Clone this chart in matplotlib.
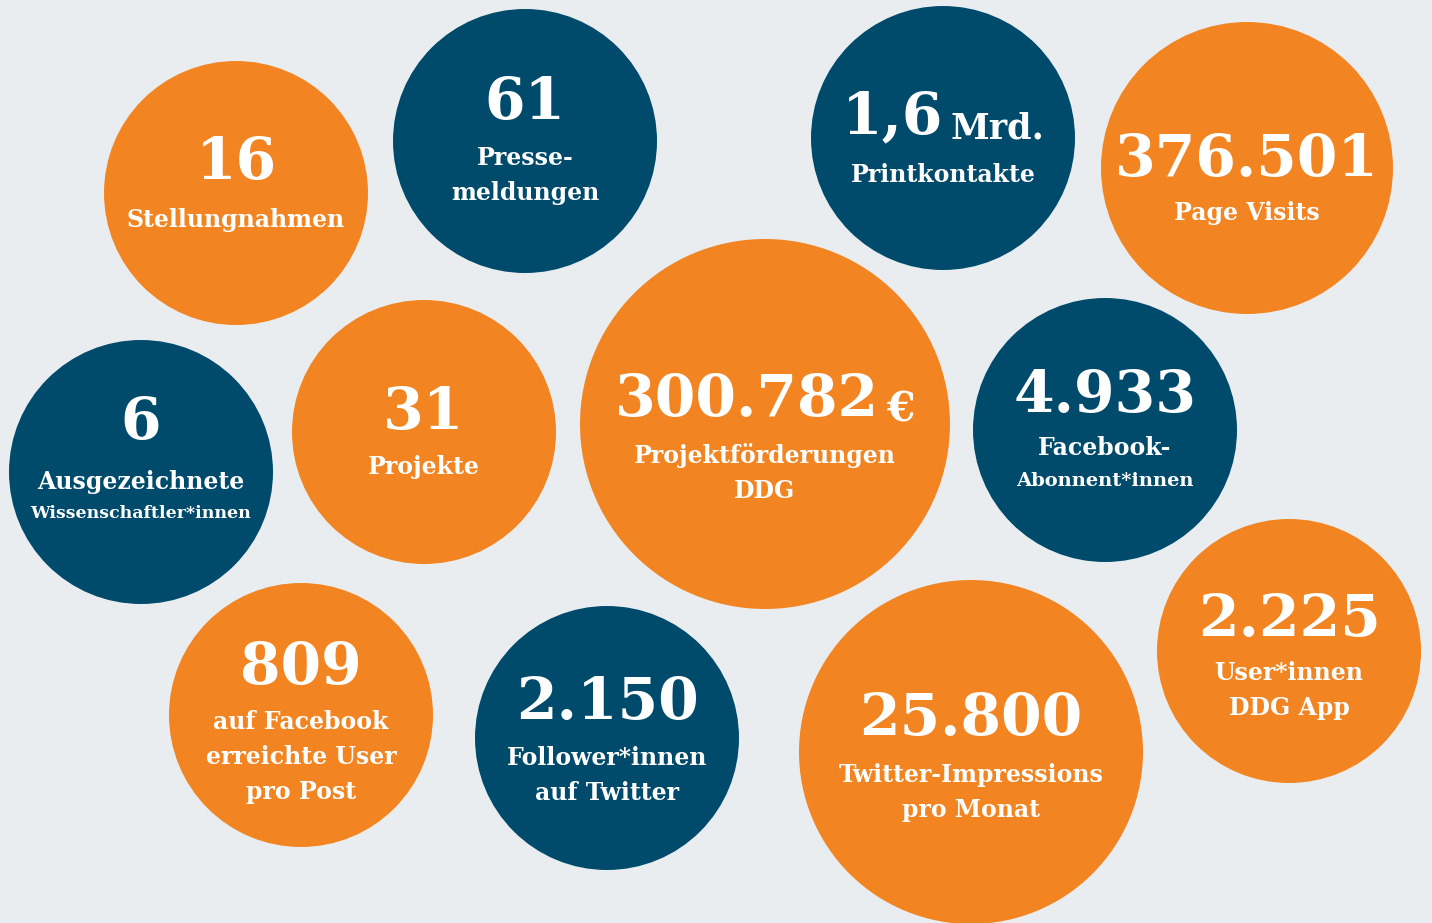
import matplotlib
matplotlib.use("Agg")
import matplotlib.pyplot as plt
from matplotlib.patches import Circle

# ---- data ----
values = ["16", "61", "1,6", "376.501", "6", "31", "300.782", "4.933",
          "809", "2.150", "25.800", "2.225"]
suffixes = ["", "", "Mrd.", "", "", "", "€", "", "", "", "", ""]
labels = [
    ["Stellungnahmen"],
    ["Presse-", "meldungen"],
    ["Printkontakte"],
    ["Page Visits"],
    ["Ausgezeichnete", "Wissenschaftler*innen"],
    ["Projekte"],
    ["Projektförderungen", "DDG"],
    ["Facebook-", "Abonnent*innen"],
    ["auf Facebook", "erreichte User", "pro Post"],
    ["Follower*innen", "auf Twitter"],
    ["Twitter-Impressions", "pro Monat"],
    ["User*innen", "DDG App"],
]
groups = ["o", "b", "b", "o", "b", "o", "o", "b", "o", "b", "o", "o"]

# ---- layout (pixel coordinates) ----
cx = [236, 525, 943, 1247, 141, 424, 765, 1105, 301, 607, 971, 1289]
cy = [193, 141, 138, 168, 472, 432, 424, 430, 715, 738, 752, 651]
rad = [132, 132, 132, 146, 132, 132, 185, 132, 132, 132, 172, 132]
num_y = [163, 103, 117, 160, 423, 413, 400, 396, 668, 703, 719, 620]
lab_y0 = [220, 158, 175, 213, 482, 467, 456, 448, 722, 758, 775, 673]
lab_dy = 35
num_size = [42] * 12
suffix_scale = [0, 0, 0.6, 0, 0, 0, 0.7, 0, 0, 0, 0, 0]
lab_sizes = [
    [17], [17, 17], [17], [17], [17, 12.5], [17], [17, 17], [17, 14],
    [17, 17, 17], [17, 17], [17, 17], [17, 17],
]

colors = {"o": "#F28522", "b": "#004B6B"}
bg = "#E9EDF0"
W, H = 1432, 923

plt.rcParams["font.family"] = ["DejaVu Serif"]
fig = plt.figure(figsize=(W / 100, H / 100), dpi=100, facecolor=bg)
ax = fig.add_axes([0, 0, 1, 1])
ax.set_xlim(0, W)
ax.set_ylim(H, 0)
ax.set_aspect("equal")
ax.axis("off")
ax.set_facecolor(bg)

for i in range(len(values)):
    ax.add_patch(Circle((cx[i], cy[i]), rad[i], color=colors[groups[i]], lw=0))

fig.canvas.draw()
renderer = fig.canvas.get_renderer()

for i in range(len(values)):
    fs = num_size[i]
    if suffixes[i]:
        t1 = ax.text(0, num_y[i], values[i], fontsize=fs, fontweight="bold",
                     color="white", ha="left", va="center")
        t2 = ax.text(0, num_y[i], suffixes[i], fontsize=fs * suffix_scale[i],
                     fontweight="bold", color="white", ha="left", va="baseline")
        w1 = t1.get_window_extent(renderer).width
        w2 = t2.get_window_extent(renderer).width
        gap = 7
        total = w1 + gap + w2
        x0 = cx[i] - total / 2
        t1.set_x(x0)
        t2.set_x(x0 + w1 + gap)
        t2.set_y(num_y[i] + fs * 1.389 * 0.36)
    else:
        ax.text(cx[i], num_y[i], values[i], fontsize=fs, fontweight="bold",
                color="white", ha="center", va="center")
    for k, line in enumerate(labels[i]):
        if i == 4 and k == 1:
            y = lab_y0[i] + 31
        elif i == 7 and k == 1:
            y = lab_y0[i] + 33
        else:
            y = lab_y0[i] + k * lab_dy
        ax.text(cx[i], y, line, fontsize=lab_sizes[i][k], fontweight="bold",
                color="white", ha="center", va="center")

fig.savefig("out.png", dpi=100, facecolor=bg)
